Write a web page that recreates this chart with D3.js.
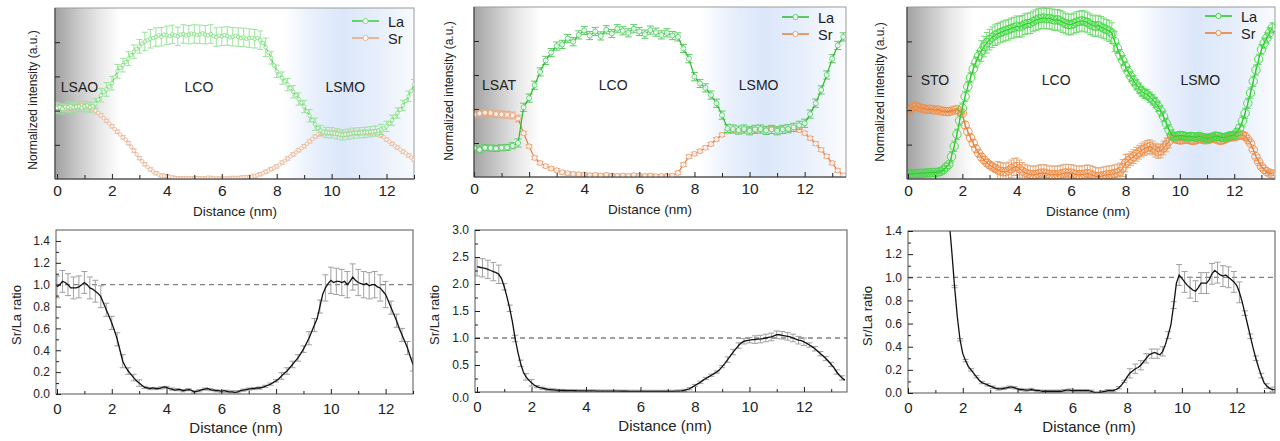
<!DOCTYPE html>
<html>
<head>
<meta charset="utf-8">
<script src="https://cdn.jsdelivr.net/npm/d3@7"></script>
<style>
  body { margin: 0; background: #fff; }
  svg { display: block; }
</style>
</head>
<body>
<svg id="fig" width="1280" height="441"></svg>
<script>
// ---------- data ----------
// top row: normalized intensity, x step 0.1 nm (panel 2: 0.2 nm)
const laPanel1 = [2.08,2.10,2.05,2.12,2.10,2.13,2.09,2.11,2.12,2.08,
  2.12,2.15,2.10,2.13,2.20,2.32,2.45,2.55,2.62,2.70,
  2.80,2.98,3.15,3.25,3.33,3.42,3.52,3.62,3.72,3.80,
  3.88,3.96,4.02,4.06,4.10,4.12,4.15,4.20,4.16,4.22,
  4.20,4.18,4.23,4.20,4.17,4.22,4.24,4.20,4.22,4.25,
  4.24,4.21,4.23,4.26,4.22,4.20,4.24,4.18,4.15,4.19,
  4.17,4.21,4.18,4.14,4.16,4.19,4.15,4.12,4.14,4.10,
  4.12,4.13,4.10,4.12,4.06,3.98,3.85,3.70,3.54,3.32,
  3.15,3.05,2.95,2.86,2.76,2.66,2.55,2.45,2.34,2.23,
  2.12,1.98,1.85,1.72,1.60,1.49,1.42,1.38,1.36,1.35,
  1.35,1.33,1.32,1.30,1.29,1.30,1.31,1.33,1.34,1.35,
  1.35,1.36,1.36,1.37,1.38,1.39,1.40,1.42,1.45,1.49,
  1.54,1.62,1.72,1.82,1.93,2.03,2.15,2.28,2.42,2.58,
  2.76];
const srPanel1 = [2.12,2.10,2.08,2.06,2.08,2.08,2.10,2.12,2.14,2.15,
  2.14,2.12,2.08,2.05,2.00,1.93,1.86,1.78,1.70,1.62,
  1.54,1.46,1.38,1.30,1.22,1.15,1.05,0.94,0.83,0.72,
  0.61,0.52,0.43,0.35,0.28,0.22,0.17,0.13,0.10,0.09,
  0.08,0.06,0.04,0.03,0.02,0.01,0.02,0.03,0.02,0.01,
  0.02,0.03,0.02,0.01,0.02,0.04,0.03,0.02,0.01,0.02,
  0.01,0.02,0.01,0.02,0.03,0.02,0.03,0.04,0.05,0.05,
  0.06,0.07,0.09,0.11,0.14,0.17,0.21,0.25,0.29,0.33,
  0.37,0.42,0.48,0.54,0.60,0.66,0.72,0.78,0.84,0.90,
  0.96,1.03,1.10,1.17,1.24,1.30,1.33,1.35,1.36,1.35,
  1.35,1.36,1.34,1.32,1.31,1.30,1.32,1.34,1.35,1.34,
  1.35,1.37,1.36,1.35,1.36,1.35,1.37,1.34,1.29,1.22,
  1.15,1.09,1.03,0.97,0.92,0.86,0.80,0.75,0.69,0.63,
  0.57];
const laPanel2 = [0.85,0.80,0.86,0.85,0.84,0.86,0.87,0.92,1.00,2.05,
  2.32,2.70,3.09,3.43,3.66,3.85,3.90,4.07,3.98,4.18,
  4.31,4.16,4.28,4.15,4.33,4.22,4.36,4.30,4.24,4.36,
  4.28,4.20,4.32,4.26,4.18,4.24,4.16,4.12,3.78,3.48,
  2.95,2.75,2.62,2.41,2.17,1.82,1.43,1.41,1.38,1.41,
  1.36,1.40,1.41,1.37,1.40,1.36,1.40,1.42,1.46,1.52,
  1.58,1.85,2.17,2.56,3.00,3.48,3.87,4.12];
const srPanel2 = [1.84,1.87,1.89,1.88,1.85,1.84,1.83,1.81,1.72,1.29,
  0.90,0.56,0.41,0.32,0.25,0.20,0.14,0.11,0.09,0.08,
  0.07,0.05,0.06,0.04,0.06,0.04,0.03,0.04,0.03,0.05,
  0.03,0.03,0.04,0.02,0.03,0.03,0.04,0.12,0.36,0.60,
  0.68,0.76,0.86,0.97,1.11,1.24,1.34,1.38,1.37,1.39,
  1.40,1.38,1.40,1.41,1.42,1.40,1.41,1.40,1.40,1.38,
  1.29,1.14,0.98,0.80,0.61,0.41,0.19,0.05];
const laPanel3 = [0.16,0.15,0.15,0.16,0.16,0.17,0.17,0.18,0.18,0.19,
  0.19,0.20,0.22,0.26,0.35,0.42,0.65,0.95,1.30,1.70,
  2.06,2.40,2.69,2.95,3.20,3.40,3.58,3.72,3.85,3.96,
  4.05,4.12,4.18,4.22,4.26,4.29,4.32,4.34,4.38,4.40,
  4.44,4.42,4.45,4.50,4.52,4.53,4.58,4.62,4.65,4.67,
  4.68,4.66,4.67,4.64,4.62,4.63,4.60,4.56,4.52,4.49,
  4.49,4.52,4.56,4.58,4.60,4.58,4.55,4.50,4.46,4.44,
  4.46,4.42,4.38,4.34,4.30,4.24,4.00,3.80,3.61,3.44,
  3.27,3.12,2.98,2.86,2.74,2.64,2.54,2.49,2.45,2.38,
  2.30,2.22,2.11,1.98,1.82,1.62,1.43,1.28,1.24,1.25,
  1.27,1.26,1.24,1.22,1.24,1.23,1.21,1.24,1.22,1.20,
  1.18,1.20,1.22,1.25,1.24,1.22,1.20,1.22,1.25,1.26,
  1.28,1.36,1.48,1.68,1.91,2.20,2.50,2.84,3.17,3.48,
  3.76,3.95,4.10,4.25,4.39];
const srPanel3 = [2.00,2.04,2.10,2.12,2.08,2.06,2.04,2.02,2.03,2.02,
  2.00,2.01,1.98,1.97,1.96,1.96,1.98,2.00,2.02,1.98,
  1.91,1.57,1.38,1.20,1.04,0.88,0.75,0.64,0.55,0.47,
  0.41,0.36,0.31,0.26,0.23,0.21,0.21,0.24,0.30,0.35,
  0.36,0.30,0.23,0.18,0.15,0.13,0.12,0.13,0.15,0.17,
  0.17,0.15,0.13,0.12,0.13,0.12,0.14,0.16,0.18,0.17,
  0.17,0.15,0.13,0.12,0.13,0.14,0.16,0.14,0.11,0.08,
  0.07,0.08,0.10,0.12,0.13,0.14,0.16,0.18,0.21,0.32,
  0.46,0.53,0.59,0.65,0.72,0.78,0.84,0.88,0.92,0.94,
  0.90,0.84,0.80,0.82,0.90,0.99,1.10,1.23,1.18,1.15,
  1.13,1.14,1.16,1.15,1.13,1.12,1.14,1.17,1.16,1.14,
  1.14,1.16,1.19,1.17,1.14,1.12,1.14,1.18,1.21,1.22,
  1.23,1.25,1.27,1.28,1.24,1.15,1.04,0.85,0.65,0.50,
  0.36,0.28,0.21,0.17,0.15];

// bottom row: Sr/La ratio, x step 0.1 nm
const ratioPanel1 = [0.98,1.00,1.03,1.02,1.00,0.97,0.97,0.97,0.98,1.00,
  1.02,1.00,0.97,0.96,0.94,0.92,0.89,0.83,0.77,0.71,
  0.65,0.58,0.50,0.40,0.30,0.25,0.21,0.18,0.15,0.12,
  0.10,0.08,0.06,0.055,0.05,0.055,0.05,0.05,0.055,0.065,
  0.06,0.05,0.045,0.035,0.04,0.04,0.03,0.035,0.04,0.035,
  0.02,0.025,0.03,0.04,0.045,0.05,0.04,0.035,0.03,0.03,
  0.025,0.03,0.025,0.02,0.02,0.015,0.02,0.03,0.035,0.04,
  0.045,0.05,0.05,0.055,0.055,0.06,0.07,0.08,0.09,0.105,
  0.12,0.14,0.165,0.19,0.21,0.24,0.27,0.30,0.33,0.37,
  0.41,0.46,0.51,0.57,0.63,0.69,0.80,0.91,0.97,1.01,
  1.04,1.02,1.03,1.03,1.02,1.03,1.00,1.03,1.07,1.04,
  1.02,1.01,1.00,1.01,0.99,1.00,1.00,0.98,0.97,0.94,
  0.91,0.85,0.79,0.73,0.67,0.60,0.54,0.48,0.42,0.34,
  0.27];
const ratioPanel2 = [2.32,2.31,2.30,2.29,2.27,2.25,2.23,2.21,2.18,2.10,
  1.95,1.76,1.55,1.30,0.99,0.74,0.53,0.37,0.28,0.22,
  0.17,0.13,0.10,0.08,0.07,0.06,0.05,0.045,0.04,0.035,
  0.03,0.03,0.028,0.026,0.025,0.024,0.023,0.022,0.021,0.02,
  0.02,0.02,0.02,0.019,0.018,0.018,0.017,0.017,0.016,0.016,
  0.015,0.015,0.015,0.014,0.014,0.014,0.013,0.013,0.013,0.012,
  0.012,0.012,0.012,0.012,0.011,0.011,0.011,0.011,0.011,0.011,
  0.011,0.012,0.013,0.015,0.018,0.022,0.03,0.045,0.06,0.09,
  0.12,0.15,0.18,0.22,0.25,0.28,0.31,0.34,0.37,0.41,
  0.47,0.53,0.60,0.67,0.74,0.80,0.86,0.91,0.94,0.95,
  0.96,0.97,0.97,0.98,0.98,0.99,1.00,1.01,1.02,1.04,
  1.06,1.06,1.05,1.04,1.03,1.02,1.00,0.98,0.96,0.95,
  0.93,0.90,0.87,0.84,0.80,0.76,0.71,0.67,0.62,0.57,
  0.51,0.45,0.37,0.31,0.26,0.22];
// panel 3 ratio starts at 1.5 nm (above 1.4 before that)
const ratioPanel3 = [1.50,1.22,0.92,0.66,0.46,0.34,0.28,0.23,0.20,0.17,
  0.14,0.11,0.09,0.08,0.07,0.06,0.05,0.04,0.035,0.035,
  0.04,0.045,0.05,0.05,0.045,0.035,0.03,0.03,0.025,0.025,
  0.03,0.025,0.02,0.02,0.015,0.015,0.015,0.015,0.015,0.015,
  0.015,0.015,0.02,0.025,0.025,0.02,0.02,0.02,0.02,0.02,
  0.02,0.02,0.015,0.005,0.0,0.005,0.01,0.015,0.02,0.02,
  0.02,0.03,0.045,0.07,0.10,0.14,0.17,0.19,0.21,0.22,
  0.24,0.27,0.30,0.33,0.34,0.35,0.34,0.33,0.36,0.42,
  0.50,0.59,0.76,0.95,1.02,0.99,0.96,0.93,0.91,0.89,
  0.88,0.91,0.95,0.95,0.95,0.98,1.03,1.06,1.04,1.02,
  1.01,1.02,1.00,0.98,0.96,0.93,0.87,0.79,0.69,0.59,
  0.49,0.39,0.30,0.22,0.15,0.09,0.06,0.04,0.03,0.03];

// error bar half-widths per x range [from, to, err]
const laErr1 = [[0,1.5,0.15],[1.5,3,0.2],[3,7.6,0.27],[7.6,9.5,0.18],[9.5,13,0.15]];
const srErr1 = [[0,1.5,0.1],[1.5,9.5,0.05],[9.5,11.8,0.08],[11.8,13,0.05]];
const laErr2 = [[0,1.5,0.09],[1.5,13.5,0.12]];
const srErr2 = [[0,1.7,0.1],[1.7,13.5,0.05]];
const laErr3 = [[0,1.5,0.04],[1.5,2.6,0.15],[2.6,7.6,0.3],[7.6,9.7,0.15],[9.7,12.2,0.1],[12.2,13.4,0.15]];
const srErr3 = [[0,2,0.03],[2,3.2,0.1],[3.2,8,0.25],[8,9.6,0.2],[9.6,12.4,0.1],[12.4,13.4,0.05]];
const ratioErr1 = [[0,1.6,0.1],[1.6,2.4,0.06],[2.4,3,0.03],[3,8,0.01],[8,9,0.03],[9,9.6,0.06],[9.6,12.1,0.12],[12.1,13,0.06]];
const ratioErr2 = [[0,0.9,0.17],[0.9,2,0.06],[2,9,0.02],[9,10,0.05],[10,12,0.07],[12,13.5,0.04]];
const ratioErr3 = [[1.5,8,0.01],[8,9.3,0.04],[9.3,9.7,0.03],[9.7,12.1,0.09],[12.1,13.4,0.02]];

const regionNames = [["LSAO", "LCO", "LSMO"], ["LSAT", "LCO", "LSMO"], ["STO", "LCO", "LSMO"]];
const seriesNames = ["La", "Sr"];
const xMajorTicks = [0, 2, 4, 6, 8, 10, 12];
const xMinorTicks = [1, 3, 5, 7, 9, 11, 13];
const topYTicks = [1, 2, 3, 4];
const ratioTicksA = [0, 0.2, 0.4, 0.6, 0.8, 1.0, 1.2, 1.4];
const ratioMinorA = [0.1, 0.3, 0.5, 0.7, 0.9, 1.1, 1.3];
const ratioTicksB = [0, 0.5, 1.0, 1.5, 2.0, 2.5, 3.0];
const ratioMinorB = [0.25, 0.75, 1.25, 1.75, 2.25, 2.75];

// ---------- drawing ----------
const FONT = "'Liberation Sans', Arial, Helvetica, sans-serif";
const svg = d3.select("#fig").attr("font-family", FONT);
const defs = svg.append("defs");

function errAt(segs, xv) {
  for (const s of segs) if (xv >= s[0] - 1e-6 && xv <= s[1] + 1e-6) return s[2];
  return 0;
}

function toPoints(vals, start, step, segs) {
  return vals.map((v, i) => {
    const xv = +(start + i * step).toFixed(2);
    return {x: xv, v: v, e: errAt(segs, xv)};
  });
}

function errPath(x, y, w) {
  return d => {
    const cx = x(d.x), y1 = y(d.v + d.e), y2 = y(d.v - d.e);
    return `M${cx},${y1}V${y2}M${cx - w},${y1}H${cx + w}M${cx - w},${y2}H${cx + w}`;
  };
}

function clipFor(id, l, t, r, b) {
  defs.append("clipPath").attr("id", id).append("rect")
    .attr("x", l).attr("y", t).attr("width", r - l).attr("height", b - t);
  return `url(#${id})`;
}

const topPanels = [
  {id: "t1", la: laPanel1, sr: srPanel1, laErr: laErr1, srErr: srErr1, step: 0.1, ebEvery: 2,
   xMax: 13, x0: 57, x1: 414, left: 55, top: 8, bottom: 179, r: 1.8, lw: 1, mw: 0.8,
   names: regionNames[0], labX: [0.82, 5.17, 10.5], labY: 2.69,
   yTitleX: 37, yTitleY: 100, xTitleX: 235, leg: {x: 352, y: 21},
   laSt: {line: "#3cc83c", marker: "#7ade7a", err: "#9ae49a", fill: "#fff", cap: 3},
   srSt: {line: "#e8a276", marker: "#ebb08c", err: "#dccbc4", fill: "#fff", cap: 3},
   bg: [[0, "#a4a4a4"], [0.7, "#c6c6c6"], [1.5, "#e6e6e6"], [2.3, "#ffffff"], [8.2, "#ffffff"],
        [9.3, "#e9f0fc"], [10.4, "#dbe7fa"], [11.6, "#e6eefb"], [12.6, "#f3f7fd"], [13, "#f7fafe"]]},
  {id: "t2", la: laPanel2, sr: srPanel2, laErr: laErr2, srErr: srErr2, step: 0.2, ebEvery: 1,
   xMax: 13.5, x0: 474, x1: 846, left: 474, top: 7, bottom: 177, r: 2.5, lw: 1.2, mw: 0.9,
   names: regionNames[1], labX: [0.91, 5.05, 10.33], labY: 2.7,
   yTitleX: 453, yTitleY: 91, xTitleX: 650, leg: {x: 782, y: 17},
   laSt: {line: "#2cbc2c", marker: "#5ccc78", err: "#5ccd5c", fill: "#fff", cap: 3.5},
   srSt: {line: "#e27f42", marker: "#eaa274", err: "#e6aa86", fill: "#fff", cap: 3.5},
   bg: [[0, "#a4a4a4"], [0.8, "#c6c6c6"], [1.6, "#e8e8e8"], [2.4, "#ffffff"], [8.2, "#ffffff"],
        [9.3, "#e9f0fc"], [10.5, "#dbe7fa"], [11.8, "#e6eefb"], [13, "#f5f8fd"], [13.5, "#fafcff"]]},
  {id: "t3", la: laPanel3, sr: srPanel3, laErr: laErr3, srErr: srErr3, step: 0.1, ebEvery: 1,
   xMax: 13.5, x0: 908, x1: 1275, left: 907, top: 7, bottom: 179, r: 4.2, lw: 1.1, mw: 0.9,
   names: regionNames[2], labX: [0.99, 5.45, 10.75], labY: 2.88,
   yTitleX: 884, yTitleY: 92, xTitleX: 1088, leg: {x: 1205, y: 16},
   laSt: {line: "#22c822", marker: "#3cd83c", err: "#72da72", fill: "none", cap: 3},
   srSt: {line: "#e8782e", marker: "#f08a40", err: "#e4ac80", fill: "none", cap: 3},
   bg: [[0, "#a4a4a4"], [0.8, "#c6c6c6"], [1.6, "#e8e8e8"], [2.4, "#ffffff"], [8.4, "#ffffff"],
        [9.5, "#e9f0fc"], [10.6, "#dbe7fa"], [12, "#e6eefb"], [13, "#f3f7fd"], [13.5, "#f8fafe"]]}
];

function drawSeries(g, x, y, pts, st, p) {
  g.append("g").attr("fill", "none").attr("stroke", st.err).attr("stroke-width", 1)
    .selectAll("path").data(pts.filter((d, i) => i % p.ebEvery === 0)).join("path")
    .attr("d", errPath(x, y, st.cap));
  g.append("path").datum(pts).attr("fill", "none").attr("stroke", st.line).attr("stroke-width", p.lw)
    .attr("d", d3.line().x(d => x(d.x)).y(d => y(d.v)));
  g.append("g").selectAll("circle").data(pts).join("circle")
    .attr("cx", d => x(d.x)).attr("cy", d => y(d.v)).attr("r", p.r)
    .attr("fill", st.fill).attr("fill-opacity", 0.8)
    .attr("stroke", st.marker).attr("stroke-width", p.mw);
}

topPanels.forEach(p => {
  const x = d3.scaleLinear().domain([0, p.xMax]).range([p.x0, p.x1]);
  const y = d3.scaleLinear().domain([0, 5]).range([p.bottom, p.top]);
  const g = svg.append("g");

  const grad = defs.append("linearGradient").attr("id", "bg" + p.id)
    .attr("gradientUnits", "userSpaceOnUse")
    .attr("x1", x(0)).attr("x2", x(p.xMax)).attr("y1", 0).attr("y2", 0);
  grad.selectAll("stop").data(p.bg).join("stop")
    .attr("offset", d => d[0] / p.xMax).attr("stop-color", d => d[1]);
  g.append("rect").attr("x", p.left).attr("y", p.top)
    .attr("width", p.x1 - p.left).attr("height", p.bottom - p.top)
    .attr("fill", `url(#bg${p.id})`).attr("stroke", "#9a9a9a").attr("stroke-width", 1);

  // region labels
  g.append("g").attr("font-size", 14).attr("fill", "#222").attr("text-anchor", "middle")
    .selectAll("text").data(p.names).join("text")
    .attr("x", (d, i) => x(p.labX[i])).attr("y", y(p.labY) + 5).text(d => d);

  const plot = g.append("g").attr("clip-path", clipFor("c" + p.id, p.left, p.top, p.x1, p.bottom));
  drawSeries(plot, x, y, toPoints(p.sr, 0, p.step, p.srErr), p.srSt, p);
  drawSeries(plot, x, y, toPoints(p.la, 0, p.step, p.laErr), p.laSt, p);

  // axes (ticks inside)
  const ax = g.append("g").attr("transform", `translate(0,${p.bottom})`)
    .call(d3.axisBottom(x).tickValues(xMajorTicks).tickSizeInner(-5).tickSizeOuter(0).tickPadding(6))
    .attr("font-family", FONT).attr("font-size", 15.5).attr("color", "#222");
  ax.select(".domain").remove();
  g.append("g").attr("transform", `translate(0,${p.bottom})`)
    .call(d3.axisBottom(x).tickValues(xMinorTicks.filter(t => t <= p.xMax)).tickSize(-4).tickFormat(""))
    .attr("color", "#222").select(".domain").remove();
  g.append("g").attr("transform", `translate(${p.left},0)`)
    .call(d3.axisLeft(y).tickValues(topYTicks).tickSize(-5).tickFormat(""))
    .attr("color", "#222").select(".domain").remove();
  g.append("path").attr("d", `M${p.left},${p.top}V${p.bottom}H${p.x1}`)
    .attr("fill", "none").attr("stroke", "#333").attr("stroke-width", 1);

  g.append("text").attr("x", p.xTitleX).attr("y", p.bottom + 37).attr("text-anchor", "middle")
    .attr("font-size", 13.5).attr("fill", "#222").text("Distance (nm)");
  g.append("text").attr("transform", `translate(${p.yTitleX},${p.yTitleY}) rotate(-90)`)
    .attr("text-anchor", "middle").attr("font-size", 12).attr("fill", "#222")
    .text("Normalized intensity (a.u.)");

  // legend
  const lg = g.append("g").selectAll("g").data(seriesNames).join("g")
    .attr("transform", (d, i) => `translate(${p.leg.x},${p.leg.y + i * 17})`);
  lg.append("line").attr("x1", 0).attr("x2", 27)
    .attr("stroke", (d, i) => i === 0 ? p.laSt.line : p.srSt.line).attr("stroke-width", 1.5);
  lg.append("circle").attr("cx", 13.5).attr("r", 2.6).attr("fill", "#fff")
    .attr("stroke", (d, i) => i === 0 ? p.laSt.marker : p.srSt.marker);
  lg.append("text").attr("x", 36).attr("y", 5.5).attr("font-size", 14.5).attr("fill", "#222").text(d => d);
});

const bottomPanels = [
  {id: "b1", vals: ratioPanel1, err: ratioErr1, start: 0, xMax: 13, x0: 57, x1: 413, left: 56,
   top: 230, bottom: 394, yMax: 1.5, ticks: ratioTicksA, minor: ratioMinorA,
   yTitleX: 21, yTitleY: 315, xTitleX: 236},
  {id: "b2", vals: ratioPanel2, err: ratioErr2, start: 0, xMax: 13.58, x0: 477, x1: 847, left: 475,
   top: 230, bottom: 392, yMax: 3.0, ticks: ratioTicksB, minor: ratioMinorB,
   yTitleX: 439, yTitleY: 315, xTitleX: 665, zeroShift: 6},
  {id: "b3", vals: ratioPanel3, err: ratioErr3, start: 1.5, xMax: 13.4, x0: 908, x1: 1275, left: 908,
   top: 231, bottom: 393, yMax: 1.4, ticks: ratioTicksA, minor: ratioMinorA,
   yTitleX: 872, yTitleY: 316, xTitleX: 1089}
];

bottomPanels.forEach(p => {
  const x = d3.scaleLinear().domain([0, p.xMax]).range([p.x0, p.x1]);
  const y = d3.scaleLinear().domain([0, p.yMax]).range([p.bottom, p.top]);
  const g = svg.append("g");
  const pts = toPoints(p.vals, p.start, 0.1, p.err);

  g.append("line").attr("x1", p.left).attr("x2", p.x1).attr("y1", y(1)).attr("y2", y(1))
    .attr("stroke", "#808080").attr("stroke-width", 1.3).attr("stroke-dasharray", "5,4");

  const plot = g.append("g").attr("clip-path", clipFor("c" + p.id, p.left, p.top, p.x1, p.bottom));
  plot.append("g").attr("fill", "none").attr("stroke", "#a0a0a0").attr("stroke-width", 1)
    .selectAll("path").data(pts.filter((d, i) => i % 2 === 0)).join("path")
    .attr("d", errPath(x, y, 3));
  plot.append("path").datum(pts).attr("fill", "none").attr("stroke", "#111").attr("stroke-width", 1.3)
    .attr("d", d3.line().x(d => x(d.x)).y(d => y(d.v)));

  g.append("rect").attr("x", p.left).attr("y", p.top).attr("width", p.x1 - p.left)
    .attr("height", p.bottom - p.top).attr("fill", "none").attr("stroke", "#555").attr("stroke-width", 1);

  const ax = g.append("g").attr("transform", `translate(0,${p.bottom})`)
    .call(d3.axisBottom(x).tickValues(xMajorTicks).tickSizeInner(-5).tickSizeOuter(0).tickPadding(9))
    .attr("font-family", FONT).attr("font-size", 15).attr("color", "#222");
  ax.select(".domain").remove();
  g.append("g").attr("transform", `translate(0,${p.bottom})`)
    .call(d3.axisBottom(x).tickValues(xMinorTicks.filter(t => t <= p.xMax)).tickSize(-3).tickFormat(""))
    .attr("color", "#222").select(".domain").remove();
  const ay = g.append("g").attr("transform", `translate(${p.left},0)`)
    .call(d3.axisLeft(y).tickValues(p.ticks).tickFormat(d3.format(".1f"))
      .tickSizeInner(-5).tickSizeOuter(0).tickPadding(6))
    .attr("font-family", FONT).attr("font-size", 12).attr("color", "#222");
  ay.select(".domain").remove();
  if (p.zeroShift) ay.selectAll(".tick text").filter(d => d === 0).attr("dy", "0.32em").attr("y", p.zeroShift);
  g.append("g").attr("transform", `translate(${p.left},0)`)
    .call(d3.axisLeft(y).tickValues(p.minor).tickSize(-3).tickFormat(""))
    .attr("color", "#222").select(".domain").remove();

  g.append("text").attr("x", p.xTitleX).attr("y", p.bottom + 39).attr("text-anchor", "middle")
    .attr("font-size", 15).attr("fill", "#222").text("Distance (nm)");
  g.append("text").attr("transform", `translate(${p.yTitleX},${p.yTitleY}) rotate(-90)`)
    .attr("text-anchor", "middle").attr("font-size", 13).attr("fill", "#222").text("Sr/La ratio");
});
</script>
</body>
</html>
